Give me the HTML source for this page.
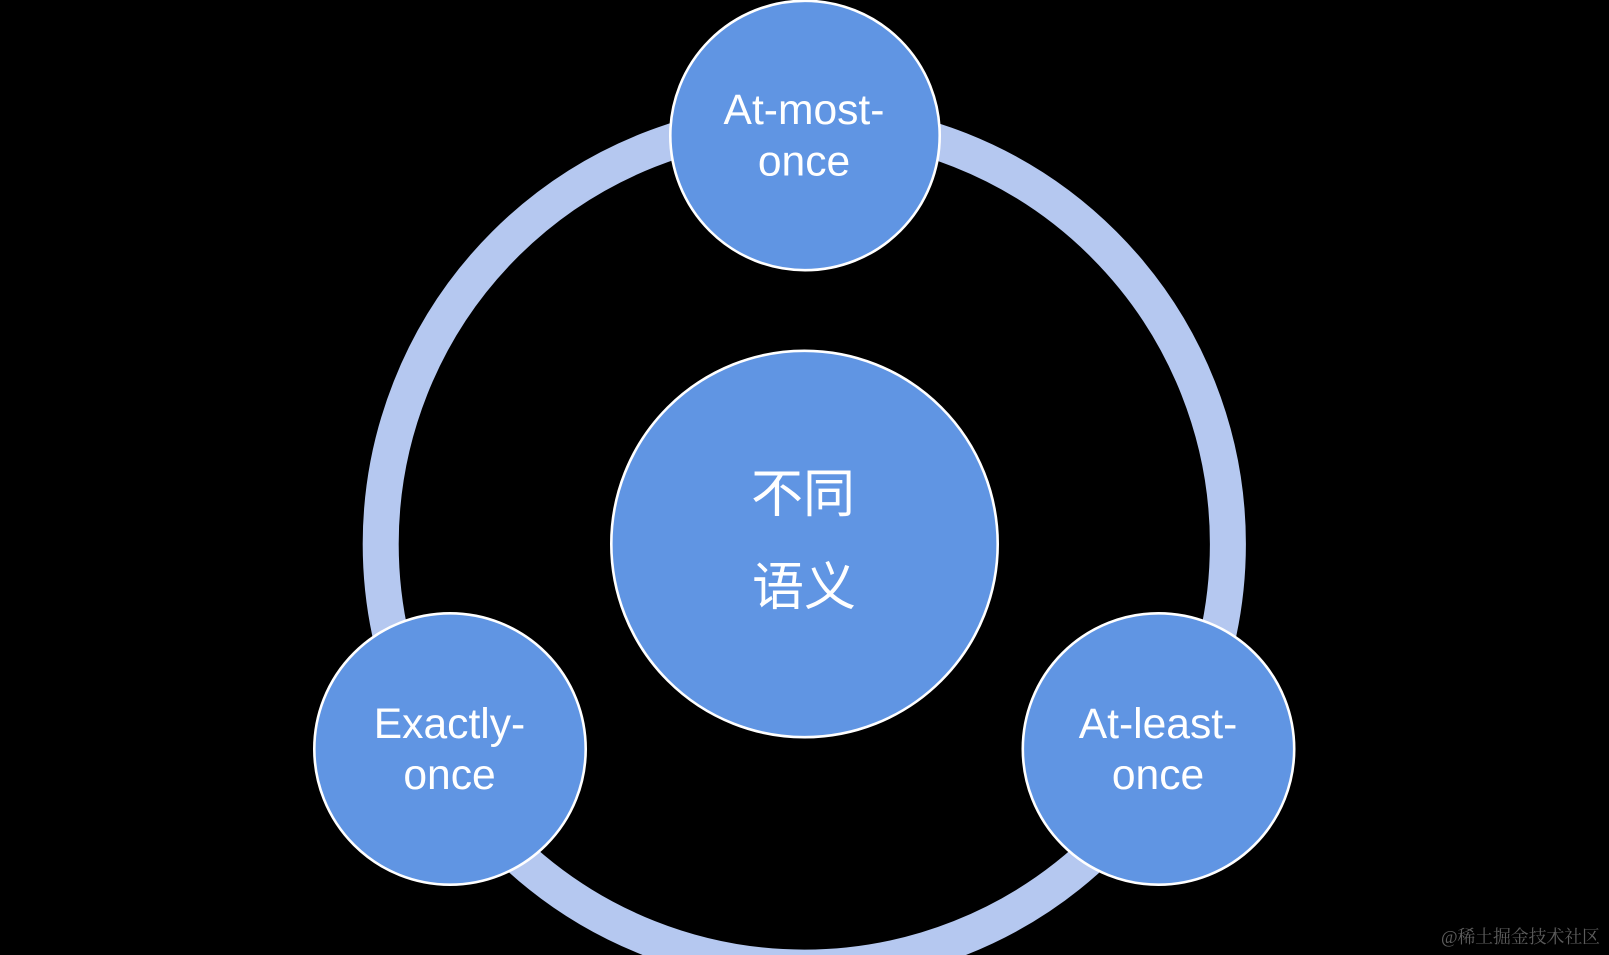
<!DOCTYPE html>
<html lang="zh">
<head>
<meta charset="utf-8">
<title>不同语义</title>
<style>
html,body{margin:0;padding:0;background:#000;width:1609px;height:955px;overflow:hidden}
svg{display:block}
</style>
</head>
<body>
<svg width="1609" height="955" viewBox="0 0 1609 955" xmlns="http://www.w3.org/2000/svg">
<rect width="1609" height="955" fill="#000"/>
<circle cx="804.3" cy="544" r="423.6" fill="none" stroke="#b5c8f0" stroke-width="36"/>
<g fill="#6095e3" stroke="#fff" stroke-width="2.6">
<circle cx="804.5" cy="544" r="193.2"/>
<circle cx="805" cy="135.5" r="134.7"/>
<circle cx="450" cy="749" r="135.7"/>
<circle cx="1158.5" cy="749" r="135.7"/>
</g>
<g fill="#fff" font-family="'Liberation Sans',sans-serif" font-size="42.6" text-anchor="middle">
<text x="804" y="124">At-most-</text>
<text x="804" y="175.5">once</text>
<text x="449.5" y="738">Exactly-</text>
<text x="449.5" y="789">once</text>
<text x="1158" y="738">At-least-</text>
<text x="1158" y="789">once</text>
</g>
<g fill="#fff" font-family="'Liberation Sans','Noto Sans CJK SC',sans-serif" font-size="52" text-anchor="middle">
<text x="803" y="512">不同</text>
<text x="804" y="605">语义</text>
</g>
<text x="1441" y="943" fill="#5c5c5c" font-family="'Liberation Serif','Noto Serif CJK SC',serif" font-size="18" textLength="159" lengthAdjust="spacing">@稀土掘金技术社区</text>
</svg>
</body>
</html>
